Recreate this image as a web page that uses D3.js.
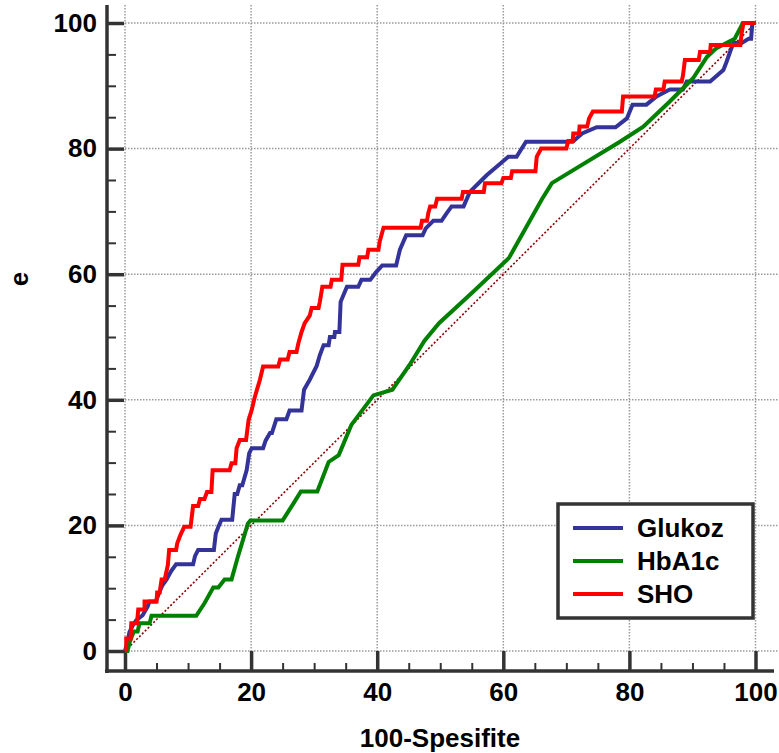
<html>
<head>
<meta charset="utf-8">
<script src="https://d3js.org/d3.v7.min.js"></script>
<style>
  body { margin: 0; background: #fff; }
  text { font-family: "Liberation Sans", Arial, sans-serif; font-weight: bold; }
</style>
</head>
<body>
<script>
// ROC curves: x = 100-Spesifite, y = sensitivity (axis title shows only "e")
var seriesNames = ["Glukoz", "HbA1c", "SHO"];
var seriesColors = ["#333399", "#008000", "#ff0000"];

var glukozPts = [[0,0],[0.4,1.5],[0.7,3.0],[1.3,4.2],[1.8,4.9],[2.8,5.7],[3.6,7.1],[3.9,7.9],[4.9,7.9],
  [5.3,9.0],[5.9,10.4],[6.6,11.4],[7.3,12.7],[8.1,13.8],[10.8,13.8],[11.1,15.1],[11.6,16.1],[14.1,16.1],
  [14.4,18.7],[14.9,20.0],[15.3,20.9],[17.0,20.9],[17.4,25.0],[17.8,25.0],[18.2,26.4],[18.6,26.4],
  [19.3,28.8],[19.7,31.5],[20.1,32.3],[21.9,32.3],[22.3,33.5],[23.0,34.7],[23.3,34.7],[24.0,36.9],
  [25.6,36.9],[26.1,38.3],[28.0,38.3],[28.4,41.6],[29.3,43.2],[30.4,45.4],[30.9,47.1],[31.5,48.7],
  [32.3,48.7],[32.5,50.0],[33.2,50.0],[33.3,50.8],[34.0,50.8],[34.2,55.6],[35.2,58.0],[37.0,58.0],
  [37.5,59.1],[38.9,59.1],[39.8,60.3],[40.8,61.4],[43.0,61.4],[43.6,63.9],[44.6,66.2],[47.2,66.2],
  [47.7,67.3],[48.9,68.5],[50.2,68.5],[51.0,69.7],[51.8,70.8],[53.7,70.8],[54.7,73.1],[56.6,75.0],
  [57.4,75.8],[59.5,77.6],[60.8,78.7],[62.1,78.7],[63.6,81.1],[71.0,81.1],[72.5,82.4],[74.8,83.4],
  [77.8,83.4],[79.6,84.8],[80.5,87.0],[82.7,87.0],[84.3,88.3],[86.4,89.4],[88.5,89.4],[89.1,90.7],
  [92.8,90.7],[94.9,92.5],[95.4,93.8],[96.0,95.5],[96.5,96.8],[97.8,96.8],[98.9,97.5],[99.3,97.5],
  [99.5,100],[100,100]];

var hba1cPts = [[0,0],[0.4,0],[0.8,1.6],[1.4,3.1],[2.0,3.1],[2.3,4.4],[3.9,4.4],[4.2,5.6],[11.3,5.6],
  [12.6,7.6],[14.0,10.1],[14.8,10.1],[15.8,11.4],[16.9,11.4],[17.9,15.0],[19.5,20.3],[19.9,20.8],
  [25.0,20.8],[26.6,23.3],[27.9,25.4],[30.5,25.4],[32.3,30.1],[33.9,31.2],[35.9,36.0],[39.4,40.7],
  [42.4,41.6],[45.1,45.5],[47.5,49.4],[49.8,52.2],[55.0,57.0],[60.9,62.6],[66.1,71.9],[67.7,74.5],
  [78.5,81.1],[82.2,83.5],[86.4,87.5],[90.1,91.2],[92.3,94.6],[93.8,96.0],[96.7,97.5],[98.0,100],[100,100]];

var shoPts = [[0,0],[0.2,0.2],[0.2,2.0],[0.9,2.0],[1.0,4.4],[1.9,4.4],[2.1,6.6],[3.1,6.6],[3.1,7.9],
  [5.0,7.9],[5.1,9.3],[5.5,9.3],[5.8,11.4],[6.3,11.4],[6.8,13.7],[7.0,16.1],[8.1,16.1],[8.3,17.2],
  [8.8,18.5],[9.4,19.8],[10.4,19.8],[10.8,23.1],[11.6,23.1],[11.9,24.2],[12.6,24.2],[13.0,25.3],
  [13.7,25.3],[13.9,28.8],[16.6,28.8],[16.9,29.9],[17.5,29.9],[17.7,32.3],[18.2,33.6],[19.2,33.6],
  [19.6,36.8],[20.1,38.4],[20.6,40.5],[21.4,43.2],[21.9,45.3],[24.3,45.3],[24.6,46.4],[25.8,46.4],
  [26.1,47.6],[27.2,47.6],[27.5,49.0],[28.0,50.8],[28.5,52.2],[29.3,53.4],[29.6,54.6],[30.7,54.6],
  [30.9,55.6],[31.3,58.0],[32.6,58.0],[32.8,59.1],[34.3,59.1],[34.5,61.5],[37.0,61.5],[37.2,62.7],
  [38.4,62.7],[38.6,63.9],[40.2,63.9],[40.4,65.2],[41.0,67.4],[46.9,67.4],[47.1,68.5],[47.9,68.5],
  [48.1,69.7],[48.4,70.8],[49.2,70.8],[49.5,72.0],[53.4,72.0],[53.6,73.1],[56.9,73.1],[57.1,74.5],
  [59.7,74.5],[60.0,75.3],[61.2,75.3],[61.4,76.4],[65.1,76.4],[65.3,78.7],[66.0,80.0],[70.0,80.0],
  [70.3,81.2],[71.0,81.2],[71.1,82.4],[72.0,82.4],[72.1,83.5],[73.3,83.5],[73.6,84.8],[74.2,85.9],
  [78.8,85.9],[79.0,88.3],[84.0,88.3],[84.2,89.4],[85.4,89.4],[85.6,90.7],[88.3,90.7],[88.5,91.7],
  [88.8,94.1],[91.0,94.1],[91.2,95.4],[92.8,95.4],[92.9,96.5],[97.6,96.5],[97.8,98.4],[98.1,100],[100,100]];

var majorTicks = [0, 20, 40, 60, 80, 100];
var minorTicks = [5,10,15,25,30,35,45,50,55,65,70,75,85,90,95];

var width = 779, height = 753;
var svg = d3.select("body").append("svg")
    .attr("width", width)
    .attr("height", height);

var x = d3.scaleLinear().domain([0, 100]).range([125, 755.5]);
var y = d3.scaleLinear().domain([0, 100]).range([651, 23]);

var axisX = 107, axisY = 671;   // axes are offset from the data area
var gridColor = "#9a9a9a", axisColor = "#333";

// grid
svg.append("g").selectAll("line").data(majorTicks).enter().append("line")
    .attr("x1", d => x(d)).attr("x2", d => x(d))
    .attr("y1", 5).attr("y2", y(0))
    .attr("stroke", gridColor).attr("stroke-width", 1.5).attr("stroke-dasharray", "1.5,1.5");
svg.append("g").selectAll("line").data(majorTicks).enter().append("line")
    .attr("x1", x(0)).attr("x2", width)
    .attr("y1", d => y(d)).attr("y2", d => y(d))
    .attr("stroke", gridColor).attr("stroke-width", 1.5).attr("stroke-dasharray", "1.5,1.5");

// y axis
var yMajor = svg.append("g").attr("transform", "translate(" + axisX + ",0)")
    .call(d3.axisLeft(y).tickValues(majorTicks).tickSizeInner(-17).tickSizeOuter(0).tickPadding(10));
var yMinor = svg.append("g").attr("transform", "translate(" + axisX + ",0)")
    .call(d3.axisLeft(y).tickValues(minorTicks).tickSizeInner(-9).tickSizeOuter(0).tickFormat(""));
// x axis
var xMajor = svg.append("g").attr("transform", "translate(0," + axisY + ")")
    .call(d3.axisBottom(x).tickValues(majorTicks).tickSizeInner(-20).tickSizeOuter(0).tickPadding(12));
var xMinor = svg.append("g").attr("transform", "translate(0," + axisY + ")")
    .call(d3.axisBottom(x).tickValues(minorTicks).tickSizeInner(-8).tickSizeOuter(0).tickFormat(""));

[yMajor, yMinor, xMajor, xMinor].forEach(function(g) {
  g.select(".domain").remove();
  g.selectAll(".tick line").attr("stroke", axisColor);
  g.selectAll(".tick text").attr("fill", "#000").style("font-size", "26px").style("font-weight", "bold")
    .style("font-family", '"Liberation Sans", Arial, sans-serif');
});
yMajor.selectAll(".tick line").attr("stroke-width", 3.5);
xMajor.selectAll(".tick line").attr("stroke-width", 3.5);
yMinor.selectAll(".tick line").attr("stroke-width", 2);
xMinor.selectAll(".tick line").attr("stroke-width", 2);

svg.append("line").attr("x1", axisX).attr("x2", axisX).attr("y1", 5).attr("y2", axisY + 2)
    .attr("stroke", axisColor).attr("stroke-width", 3.5);
svg.append("line").attr("x1", axisX - 2).attr("x2", 774).attr("y1", axisY).attr("y2", axisY)
    .attr("stroke", axisColor).attr("stroke-width", 3.5);

// axis titles
svg.append("text").attr("x", 440).attr("y", 747).attr("text-anchor", "middle")
    .style("font-size", "26px").text("100-Spesifite");
svg.append("text").attr("transform", "translate(28,279) rotate(-90)").attr("text-anchor", "middle")
    .style("font-size", "26px").text("e");

// diagonal reference line
svg.append("line")
    .attr("x1", x(0)).attr("y1", y(0)).attr("x2", x(100)).attr("y2", y(100))
    .attr("stroke", "#8b0000").attr("stroke-width", 1.6).attr("stroke-dasharray", "2,2");

// curves
var line = d3.line().x(d => x(d[0])).y(d => y(d[1]));
[glukozPts, hba1cPts, shoPts].forEach(function(pts, i) {
  svg.append("path").datum(pts)
    .attr("d", line)
    .attr("fill", "none")
    .attr("stroke", seriesColors[i])
    .attr("stroke-width", 4);
});

// legend
var legend = svg.append("g");
legend.append("rect").attr("x", 558).attr("y", 504).attr("width", 195).attr("height", 114)
    .attr("fill", "#fff").attr("stroke", axisColor).attr("stroke-width", 3.5);
seriesNames.forEach(function(name, i) {
  var ly = 528 + i * 33;
  legend.append("line").attr("x1", 573).attr("x2", 623).attr("y1", ly).attr("y2", ly)
      .attr("stroke", seriesColors[i]).attr("stroke-width", 4);
  legend.append("text").attr("x", 637).attr("y", ly + 8.5)
      .style("font-size", "26px").text(name);
});
</script>
</body>
</html>
